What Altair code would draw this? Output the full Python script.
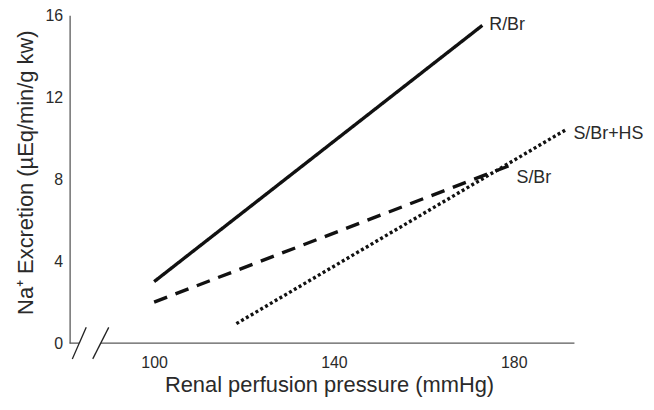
import altair as alt
import pandas as pd

# ---- data ----
series = ["R/Br", "S/Br", "S/Br+HS"]
x_start = [100.0, 100.0, 118.3]
y_start = [3.0, 2.0, 0.95]
x_end = [173.0, 179.5, 191.5]
y_end = [15.5, 8.7, 10.4]

x_ticks = [100, 140, 180]
y_ticks = [0, 4, 8, 12, 16]
x_domain = [81.2, 193.5]
y_domain = [0, 16]

# axis break (two slashes) and the two pieces of the broken x axis line
break_x0 = [81.8, 86.35]
break_x1 = [84.9, 89.9]
break_y0 = [-0.77, -0.77]
break_y1 = [0.77, 0.77]
axis_seg_x0 = [81.2, 88.12]
axis_seg_x1 = [83.34, 193.5]

FONT = "Liberation Sans"
AXIS_COLOR = "#5a5a5a"
TEXT_COLOR = "#2a2a2a"

rows = []
for s, xs, ys, xe, ye in zip(series, x_start, y_start, x_end, y_end):
    rows.append({"series": s, "x": xs, "y": ys, "order": 0})
    rows.append({"series": s, "x": xe, "y": ye, "order": 1})
lines_df = pd.DataFrame(rows)
ends_df = pd.DataFrame({"series": series, "x": x_end, "y": y_end})
break_df = pd.DataFrame({"x": break_x0, "x2": break_x1, "y": break_y0, "y2": break_y1})
seg_df = pd.DataFrame({"x": axis_seg_x0, "x2": axis_seg_x1, "y": [0, 0]})

xscale = alt.Scale(domain=x_domain, nice=False, zero=False)
yscale = alt.Scale(domain=y_domain, nice=False, zero=True)

x_axis = alt.Axis(
    values=x_ticks, domain=False, ticks=False, grid=False,
    labelPadding=12, labelFontSize=16, labelFont=FONT, labelColor=TEXT_COLOR,
    title="Renal perfusion pressure (mmHg)", titleFont=FONT, titleFontSize=22,
    titleFontWeight="normal", titleColor=TEXT_COLOR,
    titleX=261, titleY=49, titleAlign="center", titleBaseline="alphabetic",
)
y_axis = alt.Axis(
    values=y_ticks, domain=True, domainColor=AXIS_COLOR, domainWidth=1.3,
    ticks=False, grid=False, labelPadding=7,
    labelFontSize=16, labelFont=FONT, labelColor=TEXT_COLOR,
    title="Na⁺ Excretion (µEq/min/g kw)", titleFont=FONT, titleFontSize=22,
    titleFontWeight="normal", titleColor=TEXT_COLOR,
    titleX=-37, titleY=158, titleAlign="center", titleBaseline="alphabetic",
)

lines = alt.Chart(lines_df).mark_line(strokeWidth=3.4, color="#111111").encode(
    x=alt.X("x:Q", scale=xscale, axis=x_axis),
    y=alt.Y("y:Q", scale=yscale, axis=y_axis),
    detail="series:N",
    order="order:Q",
    strokeDash=alt.StrokeDash(
        "series:N",
        scale=alt.Scale(domain=series, range=[[1, 0], [14, 9], [3, 2.6]]),
        legend=None,
    ),
)

segs = alt.Chart(seg_df).mark_rule(color=AXIS_COLOR, strokeWidth=1.3).encode(
    x="x:Q", x2="x2:Q", y="y:Q"
)
breaks = alt.Chart(break_df).mark_rule(color="#222222", strokeWidth=1.3).encode(
    x="x:Q", x2="x2:Q", y="y:Q", y2="y2:Q"
)

label_offsets = {"R/Br": (7, 0), "S/Br": (5, 13), "S/Br+HS": (8, 4)}
labels = []
for s in series:
    dx, dy = label_offsets[s]
    labels.append(
        alt.Chart(ends_df).transform_filter(alt.datum.series == s)
        .mark_text(align="left", baseline="middle", dx=dx, dy=dy,
                   font=FONT, fontSize=18, color=TEXT_COLOR)
        .encode(x="x:Q", y="y:Q", text="series:N")
    )

chart = alt.layer(segs, breaks, lines, *labels).properties(
    width=508, height=330,
    autosize=alt.AutoSizeParams(type="none"),
    padding={"left": 62, "top": 6, "right": 72, "bottom": 56},
).configure(background="white").configure_view(stroke=None)

chart.save("out.html", embed_options={"renderer": "svg", "actions": False})
